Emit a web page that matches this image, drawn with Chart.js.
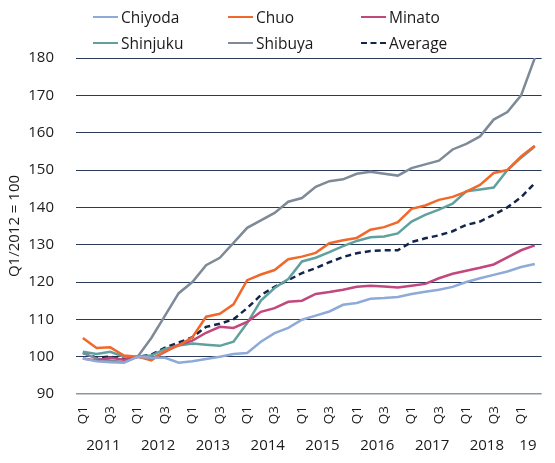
<!doctype html>
<html lang="en">
  <head>
    <meta charset="utf-8">
    <style>
      * {
        margin: 0;
        padding: 0;
      }
      body {
        width: 555px;
        height: 463px;
        background: #fff;
        font-family: 'Open Sans', sans-serif;
        color: #1a1a1a;
        position: relative;
        overflow: hidden;
      }
      .chartBox {
        position: absolute;
        left: 0;
        top: 0;
        width: 555px;
        height: 463px;
      }
      .legend {
        position: absolute;
        top: 6px;
        left: 93px;
        display: grid;
        grid-template-columns: 135px 133px 120px;
        row-gap: 4px;
        font-size: 15.5px;
      }
      .legend div {
        display: flex;
        align-items: center;
        height: 22px;
        white-space: nowrap;
      }
      .legend span.swatch {
        display: inline-block;
        width: 25px;
        height: 0;
        margin-right: 3px;
        border-top: 2.5px solid;
      }
    </style>
  </head>
  <body>
    <div class="chartBox">
      <canvas id="myChart" width="555" height="463"></canvas>
    </div>
    <div class="legend" id="legend"></div>

    <script src="https://cdn.jsdelivr.net/npm/chart.js/dist/chart.umd.min.js"></script>
    <script>
    // data, Q1 2011 .. Q2 2019, index Q1/2012 = 100
    const quarters = ['Q1', 'Q2', 'Q3', 'Q4', 'Q1', 'Q2', 'Q3', 'Q4', 'Q1', 'Q2', 'Q3', 'Q4',
      'Q1', 'Q2', 'Q3', 'Q4', 'Q1', 'Q2', 'Q3', 'Q4', 'Q1', 'Q2', 'Q3', 'Q4',
      'Q1', 'Q2', 'Q3', 'Q4', 'Q1', 'Q2', 'Q3', 'Q4', 'Q1', 'Q2'];
    const years = ['2011', '2012', '2013', '2014', '2015', '2016', '2017', '2018', '19'];

    const chiyoda = [99.5, 98.8, 98.5, 98.4, 100, 99.7, 99.7, 98.4, 98.8, 99.4, 100, 100.7, 101, 104, 106.3, 107.7, 109.9,
      111, 112.1, 113.9, 114.4, 115.5, 115.7, 116, 116.8, 117.4, 117.9, 118.7, 120, 121, 121.9, 122.8, 124, 124.8];
    const chuo = [105, 102.3, 102.5, 100.3, 100, 99, 101.5, 103, 105.2, 110.7, 111.5, 114, 120.5, 122, 123.2, 126.1, 126.8,
      127.8, 130.4, 131.2, 131.8, 134, 134.7, 136, 139.6, 140.5, 142, 142.8, 144.2, 146, 149.2, 150, 153.6, 156.5];
    const minato = [99.5, 99, 99.7, 99.2, 100, 99.4, 101.3, 103.2, 104.3, 106.4, 108, 107.7, 109.3, 112, 113, 114.7, 115,
      116.8, 117.3, 117.9, 118.7, 119, 118.8, 118.5, 119, 119.5, 121, 122.2, 123, 123.8, 124.7, 126.6, 128.5, 129.8];
    const shinjuku = [101.3, 100.7, 101.3, 100, 100, 100.3, 102.1, 103, 103.5, 103.2, 102.9, 104, 109, 115, 118.4, 120.8, 125.5,
      126.5, 128, 129.6, 131, 132, 132.2, 133, 136.2, 138, 139.4, 141, 144.3, 144.8, 145.3, 150, 153.3, 156.3];
    const shibuya = [101, 99.5, 99, 98.5, 100, 105, 111, 117, 120, 124.5, 126.5, 130.5, 134.5, 136.5, 138.5, 141.5, 142.5,
      145.5, 147, 147.5, 149, 149.5, 149, 148.5, 150.5, 151.5, 152.5, 155.5, 157, 159, 163.5, 165.5, 170, 180];
    const average = [101, 99.7, 100, 99.4, 100, 100.5, 102.4, 103.8, 105.2, 108, 108.8, 110, 113, 116.5, 118.7, 120.5, 122.4,
      123.7, 125.3, 126.7, 127.7, 128.3, 128.5, 128.5, 130.7, 131.7, 132.5, 133.6, 135.3, 136.2, 138, 140, 142.7, 146.5];

    const FONT = "'Open Sans', sans-serif";

    const series = [
      { label: 'Chiyoda', data: chiyoda, color: '#8eaad8' },
      { label: 'Chuo', data: chuo, color: '#f0692a' },
      { label: 'Minato', data: minato, color: '#c2477d' },
      { label: 'Shinjuku', data: shinjuku, color: '#60a09f' },
      { label: 'Shibuya', data: shibuya, color: '#7e8a97' },
      { label: 'Average', data: average, color: '#14254a', dash: [6, 4] }
    ];

    // html legend, 3 columns
    const legendEl = document.getElementById('legend');
    series.forEach(s => {
      const item = document.createElement('div');
      const sw = document.createElement('span');
      sw.className = 'swatch';
      sw.style.borderTopColor = s.color;
      if (s.dash) sw.style.borderTopStyle = 'dashed';
      item.appendChild(sw);
      item.appendChild(document.createTextNode(s.label));
      legendEl.appendChild(item);
    });

    // year labels under the quarter ticks
    const yearLabels = {
      id: 'yearLabels',
      afterDraw(chart) {
        const { ctx, scales: { x } } = chart;
        ctx.save();
        ctx.font = '15px ' + FONT;
        ctx.fillStyle = '#1a1a1a';
        ctx.textAlign = 'center';
        ctx.textBaseline = 'middle';
        years.forEach((yr, k) => {
          const a = k * 4 + 1, b = Math.min(k * 4 + 2, quarters.length - 1);
          const px = (k === years.length - 1)
            ? (x.getPixelForValue(k * 4) + x.getPixelForValue(k * 4 + 1)) / 2
            : (x.getPixelForValue(a) + x.getPixelForValue(b)) / 2;
          ctx.fillText(yr, px, 446);
        });
        ctx.restore();
      }
    };

    const config = {
      type: 'line',
      data: {
        labels: quarters,
        datasets: series.map(s => ({
          label: s.label,
          data: s.data,
          borderColor: s.color,
          backgroundColor: s.color,
          borderWidth: 2.5,
          borderDash: s.dash || [],
          pointRadius: 0,
          tension: 0,
          fill: false
        }))
      },
      options: {
        responsive: false,
        animation: false,
        layout: {
          padding: { top: 58, right: 1, left: 6, bottom: 0 }
        },
        scales: {
          x: {
            offset: true,
            grid: { display: false },
            border: { display: false },
            afterFit(scale) { scale.height = 69; },
            ticks: {
              autoSkip: false,
              minRotation: 90,
              maxRotation: 90,
              padding: 4,
              color: '#1a1a1a',
              font: { family: FONT, size: 13.5 },
              callback(value, index) {
                const q = quarters[index];
                return (q === 'Q1' || q === 'Q3') ? q : '';
              }
            }
          },
          y: {
            min: 90,
            max: 180,
            afterFit(scale) { scale.width = 70; },
            border: { display: false },
            grid: {
              drawTicks: false,
              color: ctx => ctx.tick && ctx.tick.value === 90 ? '#8c95a2' : '#2c3a59',
              lineWidth: ctx => ctx.tick && ctx.tick.value === 90 ? 1.5 : 1
            },
            ticks: {
              stepSize: 10,
              padding: 22,
              color: '#1a1a1a',
              font: { family: FONT, size: 15 }
            },
            title: {
              display: true,
              text: 'Q1/2012 = 100',
              color: '#1a1a1a',
              font: { family: FONT, size: 15 },
              padding: 0
            }
          }
        },
        plugins: {
          legend: { display: false },
          tooltip: { enabled: false }
        }
      },
      plugins: [yearLabels]
    };

    const myChart = new Chart(document.getElementById('myChart'), config);
    </script>
  </body>
</html>
